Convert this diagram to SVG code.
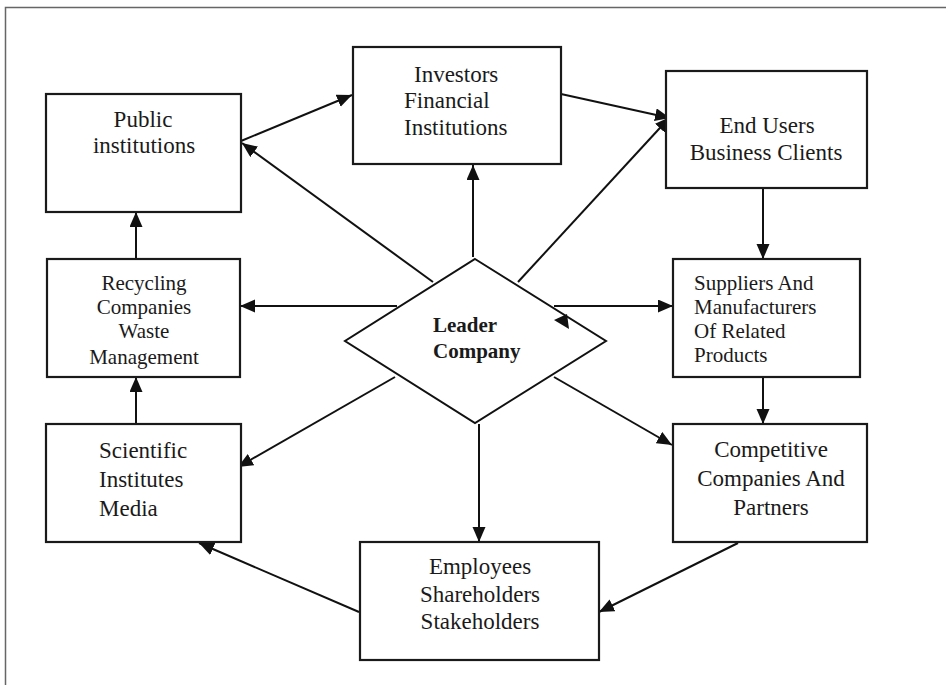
<svg xmlns="http://www.w3.org/2000/svg" width="946" height="685" viewBox="0 0 946 685">
<style>
.box{fill:#fff;stroke:#1a1a1a;stroke-width:2.2}
.t{font-family:"Liberation Serif","Times New Roman",serif;font-size:23px;fill:#1a1a1a}
.s{font-size:21px}
.c{text-anchor:middle}
.b{font-weight:bold;font-size:21px}
.ln{stroke:#111;stroke-width:2;fill:none;marker-end:url(#ah)}
</style>
<defs>
<marker id="ah" markerUnits="userSpaceOnUse" markerWidth="16" markerHeight="14" refX="15" refY="6.5" orient="auto">
<path d="M0,0 L15,6.5 L0,13 z" fill="#111"/>
</marker>
</defs>
<rect width="946" height="685" fill="#fff"/>
<path d="M5.5,685 V7.5 H946" fill="none" stroke="#666" stroke-width="1.5"/>

<g id="connectors">
<line class="ln" x1="241" y1="141" x2="352" y2="95"/>
<line class="ln" x1="433" y1="282" x2="242" y2="143"/>
<line class="ln" x1="473" y1="257" x2="473" y2="165"/>
<line class="ln" x1="518" y1="282" x2="670" y2="117"/>
<line class="ln" x1="561" y1="94" x2="670" y2="118"/>
<line class="ln" x1="763" y1="188" x2="763" y2="259"/>
<line class="ln" x1="763" y1="377" x2="763" y2="424"/>
<line class="ln" x1="554" y1="306" x2="673" y2="306"/>
<line class="ln" x1="397" y1="306" x2="240" y2="306"/>
<line class="ln" x1="136" y1="259" x2="136" y2="212"/>
<line class="ln" x1="136" y1="424" x2="136" y2="377"/>
<line class="ln" x1="395" y1="377" x2="238" y2="467"/>
<line class="ln" x1="554" y1="377" x2="672" y2="445"/>
<line class="ln" x1="479" y1="424" x2="479" y2="542"/>
<line class="ln" x1="738" y1="543" x2="599" y2="612"/>
<line class="ln" x1="359" y1="612" x2="199" y2="543"/>
</g>

<g id="public">
<rect class="box" x="46" y="94" width="195" height="118"/>
<text class="t c" x="143" y="127">Public</text>
<text class="t c" x="144" y="153">institutions</text>
</g>

<g id="investors">
<rect class="box" x="353" y="47" width="208" height="117"/>
<text class="t" x="414" y="82">Investors</text>
<text class="t" x="404" y="108">Financial</text>
<text class="t" x="404" y="135">Institutions</text>
</g>

<g id="endusers">
<rect class="box" x="666" y="71" width="201" height="117"/>
<text class="t c" x="767" y="133">End Users</text>
<text class="t c" x="766" y="160">Business Clients</text>
</g>

<g id="recycling">
<rect class="box" x="47" y="259" width="193" height="118"/>
<text class="t s c" x="144" y="290">Recycling</text>
<text class="t s c" x="144" y="314">Companies</text>
<text class="t s c" x="144" y="338">Waste</text>
<text class="t s c" x="144" y="364">Management</text>
</g>

<g id="suppliers">
<rect class="box" x="673" y="259" width="187" height="118"/>
<text class="t s" x="694" y="290">Suppliers And</text>
<text class="t s" x="694" y="314">Manufacturers</text>
<text class="t s" x="694" y="338">Of Related</text>
<text class="t s" x="694" y="362">Products</text>
</g>

<g id="leader">
<polygon points="475,259 606,341 475,423 345,341" fill="#fff" stroke="#111" stroke-width="2"/>
<polygon points="554,320 567,314 569,329" fill="#111"/>
<text class="t b" x="433" y="332">Leader</text>
<text class="t b" x="433" y="358">Company</text>
</g>

<g id="scientific">
<rect class="box" x="46" y="424" width="195" height="118"/>
<text class="t" x="99" y="458">Scientific</text>
<text class="t" x="99" y="487">Institutes</text>
<text class="t" x="99" y="516">Media</text>
</g>

<g id="competitive">
<rect class="box" x="673" y="424" width="194" height="118"/>
<text class="t c" x="771" y="457">Competitive</text>
<text class="t c" x="771" y="486">Companies And</text>
<text class="t c" x="771" y="515">Partners</text>
</g>

<g id="employees">
<rect class="box" x="360" y="542" width="239" height="118"/>
<text class="t c" x="480" y="574">Employees</text>
<text class="t c" x="480" y="602">Shareholders</text>
<text class="t c" x="480" y="629">Stakeholders</text>
</g>
</svg>
